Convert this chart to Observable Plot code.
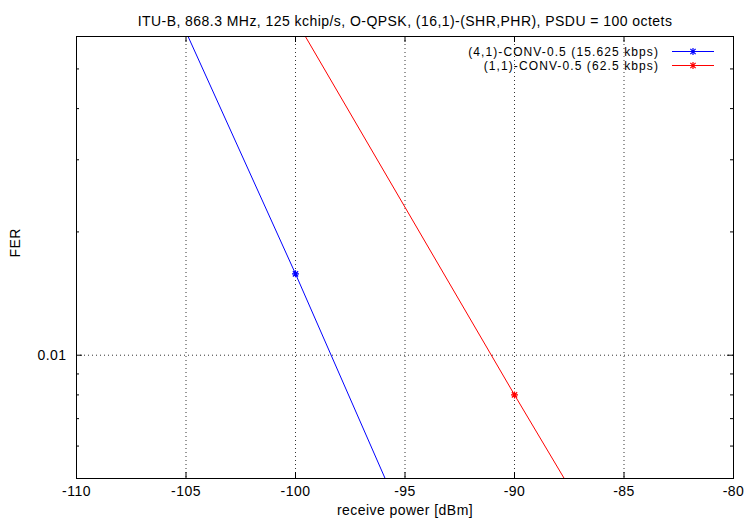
<!DOCTYPE html>
<html>
<head>
<meta charset="utf-8">
<script src="https://cdn.jsdelivr.net/npm/d3@7"></script>
<script src="https://cdn.jsdelivr.net/npm/@observablehq/plot@0.6"></script>
<style>
  html, body { margin: 0; padding: 0; background: #fff; }
  #chart svg { display: block; }
</style>
</head>
<body>
<div id="chart"></div>
<script>
// ---- data ----
const titleText = "ITU-B, 868.3 MHz, 125 kchip/s, O-QPSK, (16,1)-(SHR,PHR), PSDU = 100 octets";
const xLabel = "receive power [dBm]";
const yLabel = "FER";
const seriesNames = ["(4,1)-CONV-0.5 (15.625 kbps)", "(1,1)-CONV-0.5 (62.5 kbps)"];
const seriesColors = ["#0000ff", "#ff0000"];
const bluePower = [-110, -100, -90];
const blueFER = [0.24, 0.0158, 0.00095];
const redPower = [-100, -90, -80];
const redFER = [0.066, 0.0080, 0.00101];
const xTicks = [-110, -105, -100, -95, -90, -85, -80];
const xGrid = [-105, -100, -95, -90, -85];
const yMajor = [0.01];
const yMinor = [0.006, 0.007, 0.008, 0.009, 0.02, 0.03, 0.04, 0.05];
const xDomain = [-110, -80];
const yDomain = [0.005, 0.06];

const blue = bluePower.map((p, i) => ({x: p, y: blueFER[i], s: seriesNames[0]}));
const red = redPower.map((p, i) => ({x: p, y: redFER[i], s: seriesNames[1]}));

const W = 745, H = 524;
const mL = 76, mR = 12, mT = 36, mB = 46;
const fw = W - mL - mR, fh = H - mT - mB;
const font = "'Liberation Sans', Arial, Helvetica, sans-serif";
const fs = 14;

function legend(index, scales, values, dims) {
  const g = d3.create("svg:g");
  const right = dims.width - dims.marginRight;
  const top = dims.marginTop;
  seriesNames.forEach((name, i) => {
    const cy = top + 15.5 + i * 14;
    g.append("text").attr("x", right - 74).attr("y", cy).attr("dy", "0.35em")
      .attr("text-anchor", "end").attr("fill", "#000").attr("font-size", 12)
      .attr("letter-spacing", "1.1px")
      .attr("font-family", font).text(name);
    g.append("line").attr("x1", right - 61).attr("x2", right - 19)
      .attr("y1", cy).attr("y2", cy).attr("stroke", seriesColors[i]).attr("stroke-width", 1);
    const cx = right - 40, r = 3.5;
    g.append("path").attr("stroke", seriesColors[i]).attr("fill", "none").attr("stroke-width", 1.2)
      .attr("d", `M${cx - r},${cy}H${cx + r}M${cx},${cy - r}V${cy + r}M${cx - r * 0.75},${cy - r * 0.75}L${cx + r * 0.75},${cy + r * 0.75}M${cx - r * 0.75},${cy + r * 0.75}L${cx + r * 0.75},${cy - r * 0.75}`);
  });
  return g.node();
}

function starDots(data, color) {
  return Plot.dot(data, {
    x: "x", y: "y", stroke: color, r: 3.5, clip: true, strokeWidth: 1.2,
    symbol: {
      draw(ctx, size) {
        const r = Math.sqrt(size / Math.PI);
        const d = r * 0.75;
        ctx.moveTo(-r, 0); ctx.lineTo(r, 0);
        ctx.moveTo(0, -r); ctx.lineTo(0, r);
        ctx.moveTo(-d, -d); ctx.lineTo(d, d);
        ctx.moveTo(-d, d); ctx.lineTo(d, -d);
      }
    }
  });
}

const chart = Plot.plot({
  width: W, height: H,
  marginLeft: mL, marginRight: mR, marginTop: mT, marginBottom: mB,
  style: {fontFamily: font, fontSize: fs + "px", color: "#000", background: "#fff", letterSpacing: "0.45px"},
  x: {domain: xDomain, label: null},
  y: {type: "log", domain: yDomain, label: null},
  marks: [
    Plot.gridX(xGrid, {stroke: "#000", strokeOpacity: 0.8, strokeDasharray: "1,3"}),
    Plot.gridY(yMajor, {stroke: "#000", strokeOpacity: 0.8, strokeDasharray: "1,3"}),
    // inward ticks
    Plot.ruleX(xTicks, {x: d => d, insetTop: fh - 6, stroke: "#000"}),
    Plot.ruleX(xTicks, {x: d => d, insetBottom: fh - 6, stroke: "#000"}),
    Plot.ruleY(yMajor, {y: d => d, insetRight: fw - 6, stroke: "#000"}),
    Plot.ruleY(yMajor, {y: d => d, insetLeft: fw - 6, stroke: "#000"}),
    Plot.ruleY(yMinor, {y: d => d, insetRight: fw - 3, stroke: "#000"}),
    Plot.ruleY(yMinor, {y: d => d, insetLeft: fw - 3, stroke: "#000"}),
    Plot.axisX({ticks: xTicks, tickSize: 0, tickPadding: 8, fontSize: fs, tickFormat: d => String(d), label: null}),
    Plot.axisY({ticks: yMajor, tickSize: 0, tickPadding: 10, fontSize: fs, tickFormat: () => "0.01", label: null}),
    Plot.line(blue, {x: "x", y: "y", stroke: seriesColors[0], strokeWidth: 1, clip: true}),
    Plot.line(red, {x: "x", y: "y", stroke: seriesColors[1], strokeWidth: 1, clip: true}),
    starDots(blue, seriesColors[0]),
    starDots(red, seriesColors[1]),
    Plot.frame({stroke: "#000", strokeWidth: 1}),
    Plot.text([titleText], {frameAnchor: "top", dy: -20, fontSize: fs, fill: "#000"}),
    Plot.text([xLabel], {frameAnchor: "bottom", dy: 36, fontSize: fs, fill: "#000"}),
    Plot.text([yLabel], {frameAnchor: "left", dx: -61, rotate: -90, fontSize: fs, fill: "#000"}),
    legend
  ]
});
document.getElementById("chart").appendChild(chart);
</script>
</body>
</html>
